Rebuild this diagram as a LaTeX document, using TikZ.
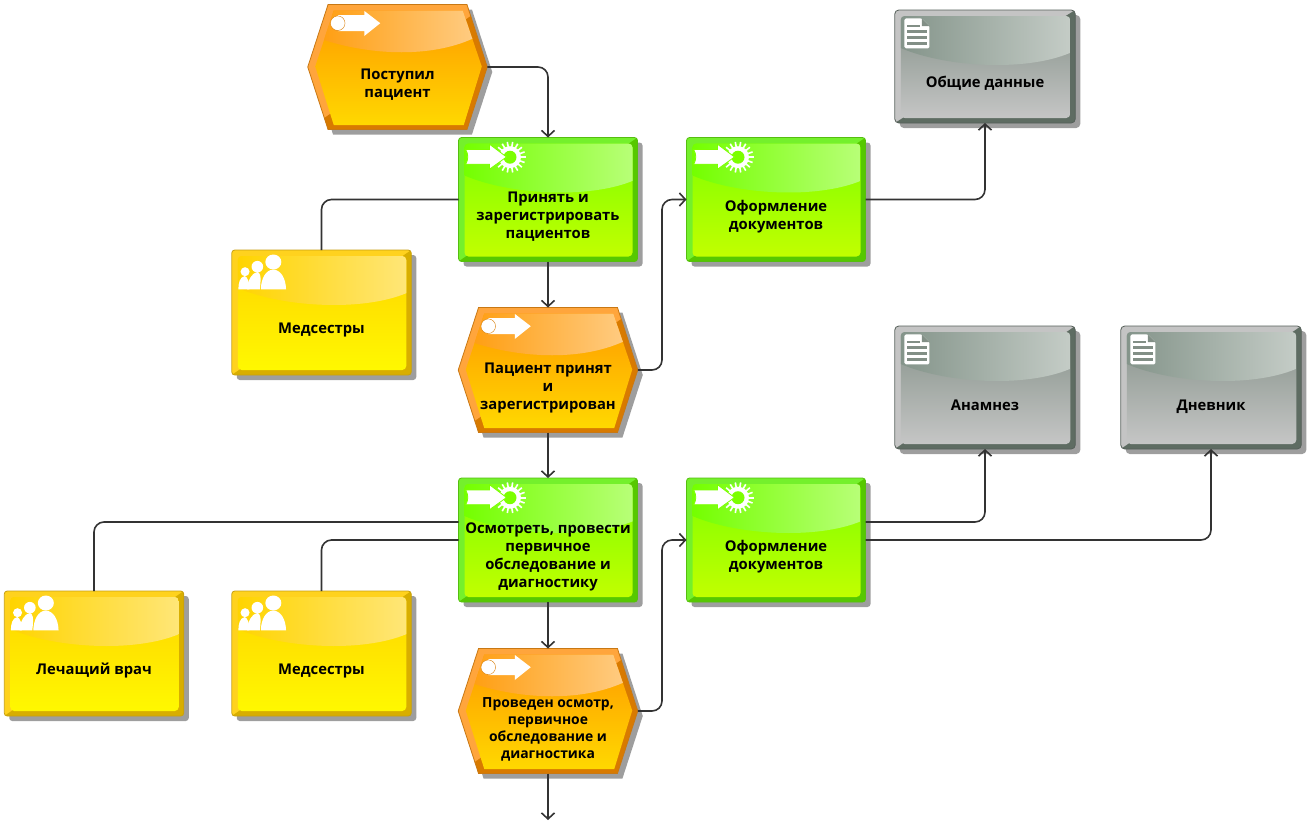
\documentclass[tikz,border=0pt]{standalone}
\usepackage{fontspec}
\setmainfont{Open Sans}
\usetikzlibrary{arrows.meta,shadows,shapes.symbols}

% Face colours of the four box kinds
\definecolor{evlight}{HTML}{FFA53C}
\definecolor{evdark}{HTML}{D87A00}
\definecolor{evedge}{HTML}{C87814}
\definecolor{evtop}{HTML}{FF9A00}
\definecolor{evbot}{HTML}{FFD800}
\definecolor{evglossl}{HTML}{FF9C0C}
\definecolor{evglossr}{HTML}{FFCE88}
\definecolor{fnlight}{HTML}{74F02C}
\definecolor{fndark}{HTML}{56C800}
\definecolor{fnedge}{HTML}{56BE10}
\definecolor{fntop}{HTML}{7CFF00}
\definecolor{fnbot}{HTML}{C4FF00}
\definecolor{fnglossl}{HTML}{74FF00}
\definecolor{fnglossr}{HTML}{B8FF78}
\definecolor{orlight}{HTML}{FFD21E}
\definecolor{ordark}{HTML}{D8AE00}
\definecolor{oredge}{HTML}{C8A010}
\definecolor{ortop}{HTML}{FFD200}
\definecolor{orbot}{HTML}{FFFA00}
\definecolor{orglossl}{HTML}{FFD400}
\definecolor{orglossr}{HTML}{FFE678}
\definecolor{inlight}{HTML}{C4C4C4}
\definecolor{indark}{HTML}{5E6C62}
\definecolor{inedge}{HTML}{56605A}
\definecolor{intop}{HTML}{828F86}
\definecolor{inbot}{HTML}{C8C8C8}
\definecolor{inglossl}{HTML}{84948A}
\definecolor{inglossr}{HTML}{C4CCC6}
\definecolor{linkcol}{HTML}{333333}

\tikzset{
  boxorigin/.code={\pgftransformreset\pgftransformshift{\pgfpointanchor{path picture bounding box}{north west}}},
  boxorigin/.append style={x=1pt,y=-1pt,sharp corners}
}

% Rectangular face: bezel, gradient and gloss, #1 is the colour prefix
\newcommand{\rectface}[1]{%
  \fill[#1light,sharp corners] (path picture bounding box.north west) rectangle (path picture bounding box.south east);
  \fill[#1dark,sharp corners] (path picture bounding box.north east) -- (path picture bounding box.south east) -- (path picture bounding box.south west) -- cycle;
  \begin{scope}
    \clip[rounded corners=4pt] ([shift={(6pt,-6pt)}]path picture bounding box.north west) rectangle ([shift={(-5pt,5pt)}]path picture bounding box.south east);
    \shade[sharp corners,top color=#1top,bottom color=#1bot] (path picture bounding box.north west) rectangle (path picture bounding box.south east);
    \begin{scope}[boxorigin]
      \shade[left color=#1glossl,middle color=#1glossr!20!#1glossl,right color=#1glossr] (6,6) -- (175,6) -- (175,43) .. controls (130,62) and (50,57) .. (6,38) -- cycle;
    \end{scope}
  \end{scope}}

% Hexagon face: same layers, cut to the inner hexagon
\newcommand{\hexface}[1]{%
  \fill[#1light] (path picture bounding box.north west) rectangle (path picture bounding box.south east);
  \fill[#1dark] (path picture bounding box.north east) -- (path picture bounding box.south east) -- (path picture bounding box.south west) -- cycle;
  \begin{scope}[boxorigin]
    \clip (26,6) -- (155,6) -- (174,62) -- (156,120.5) -- (26,120.5) -- (7.5,62) -- cycle;
    \shade[top color=#1top,bottom color=#1bot] (0,6) rectangle (181,120.5);
    \shade[left color=#1glossl,middle color=#1glossr!20!#1glossl,right color=#1glossr] (6,6) -- (175,6) -- (175,29) .. controls (130,55) and (60,52) .. (6,32) -- cycle;
  \end{scope}}

% Icons, in pixels from the corner of the box
\newcommand{\evicon}{%
  \begin{scope}[boxorigin]
    \fill[white] (30,10.5) -- (56.5,10.5) -- (56.5,6.4) -- (72.5,18.7) -- (56.5,31.5) -- (56.5,26.5) -- (30,26.5) -- cycle;
    \fill[white,draw=evdark,line width=0.4pt] (30,18.7) circle (7.3);
  \end{scope}}
\newcommand{\fnicon}{%
  \begin{scope}[boxorigin]
    \foreach \a in {0,20,...,340} \draw[white,line width=1.6pt] (51.5,19.7) ++(\a:9) -- ++(\a:6.5);
    \fill[white] (51.5,19.7) circle (11);
    \fill[fntop] (51.5,19.7) circle (6.5);
    \fill[white,draw=fntop,line width=0.8pt] (7.2,12) -- (31,12) -- (31,6.7) -- (48,19.5) -- (31,31.7) -- (31,26.7) -- (7.2,26.7) .. controls (10,22) and (10,17) .. cycle;
  \end{scope}}
\newcommand{\oricon}{%
  \begin{scope}[boxorigin]
    \fill[white] (6.6,39.3) .. controls (6.6,33) and (8,27) .. (13,26) .. controls (16,27) and (18,33) .. (17.5,39.3) -- cycle;
    \fill[white] (13.3,21.7) circle (4.5);
    \fill[white] (15.3,39.3) .. controls (16,30) and (20,23) .. (25.6,22) .. controls (28,22.5) and (30,25) .. (28,39.3) -- cycle;
    \fill[white] (25.6,16.7) circle (5.8);
    \fill[white] (29,39.3) .. controls (29.5,28) and (34,20) .. (41.6,19.5) .. controls (49,20) and (54,28) .. (54.3,39.3) -- cycle;
    \fill[white] (41.6,12) ellipse (8 and 7.5);
  \end{scope}}
\newcommand{\inicon}{%
  \begin{scope}[boxorigin]
    \fill[white,rounded corners=1.5pt] (9.7,8.3) -- (27,8.3) -- (34.7,16) -- (34.7,38.3) -- (9.7,38.3) -- cycle;
    \fill[intop] (27,8.3) -- (27,16) -- (34.7,16) -- cycle;
    \foreach \y/\e in {16/25,21.7/32.5,27.7/32.5,33.3/32.5} \fill[intop] (12,\y-1.3) rectangle (\e,\y+1.3);
  \end{scope}}

% Box text sits below the middle of the box
\newcommand{\lowtext}[2][20.5pt]{\raisebox{-#1}[0pt][0pt]{\begin{tabular}{@{}c@{}}#2\end{tabular}}}

\tikzset{
  epcbase/.style={line width=0.8pt,inner sep=0pt,outer sep=0pt,text=black,
    font=\fontsize{14.8}{18}\selectfont\bfseries,
    drop shadow={shadow xshift=5pt,shadow yshift=-5pt,fill=black!38,opacity=1}},
  epcevent/.style={epcbase,shape=signal,signal to=east and west,signal pointer angle=144,
    minimum width=179.5pt,minimum height=125pt,draw=evedge,
    path picture={\hexface{ev}\evicon}},
  epcfn/.style={epcbase,rectangle,rounded corners=3pt,minimum width=179pt,minimum height=124pt,
    draw=fnedge,path picture={\rectface{fn}\fnicon}},
  epcorg/.style={epcbase,rectangle,rounded corners=3pt,minimum width=179.5pt,minimum height=125pt,
    draw=oredge,path picture={\rectface{or}\oricon}},
  epcinfo/.style={epcbase,rectangle,rounded corners=4pt,minimum width=180.5pt,minimum height=123pt,
    draw=inedge,path picture={\rectface{in}\inicon}},
  link/.style={draw=linkcol,line width=1.6pt,rounded corners=10pt},
  >={Straight Barb[length=6pt,width=13pt]}
}

\begin{document}
\begin{tikzpicture}[x=1pt,y=-1pt]
  \useasboundingbox (0,0) rectangle (1314,825);

  % Events
  \node[epcevent] (evA) at (397.5,67) {\lowtext[21pt]{Поступил\\пациент}};
  \node[epcevent] (evB) at (548,370) {\lowtext[21pt]{Пациент принят\\и\\зарегистрирован}};
  \node[epcevent,font=\fontsize{13.9}{17}\selectfont\bfseries] (evC) at (548,711) {\lowtext[22pt]{Проведен осмотр,\\первичное\\обследование и\\диагностика}};

  % Functions
  \node[epcfn] (fnA) at (548,199.5) {\lowtext{Принять и\\зарегистрировать\\пациентов}};
  \node[epcfn] (fnB) at (776,199.5) {\lowtext{Оформление\\документов}};
  \node[epcfn] (fnC) at (548,540) {\lowtext{Осмотреть, провести\\первичное\\обследование и\\диагностику}};
  \node[epcfn] (fnD) at (776,540) {\lowtext{Оформление\\документов}};

  % Staff
  \node[epcorg] (orgA) at (321.5,312.5) {\lowtext{Медсестры}};
  \node[epcorg] (orgB) at (94,653.5) {\lowtext{Лечащий врач}};
  \node[epcorg] (orgC) at (321.5,653.5) {\lowtext{Медсестры}};

  % Documents
  \node[epcinfo,minimum height=113pt] (infoA) at (985,66.5) {\lowtext{Общие данные}};
  \node[epcinfo] (infoB) at (985,387.5) {\lowtext[22.5pt]{Анамнез}};
  \node[epcinfo] (infoC) at (1211,387.5) {\lowtext[22.5pt]{Дневник}};

  % Helper points
  \coordinate (turnA) at (662,285);
  \coordinate (turnB) at (662,625);
  \coordinate (flowend) at (548,820);

  % Main flow
  \draw[link,->] (evA.east) -| (fnA.north);
  \draw[link,->] (fnA.south) -- (evB.north);
  \draw[link,->] (evB.south) -- (fnC.north);
  \draw[link,->] (fnC.south) -- (evC.north);
  \draw[link,->] (evC.south) -- (flowend);

  % Side branches
  \draw[link,->] (evB.east) -| (turnA) |- (fnB.west);
  \draw[link,->] (evC.east) -| (turnB) |- (fnD.west);
  \draw[link,->] (fnB.east) -| (infoA.south);
  \draw[link,->] ([yshift=18pt]fnD.east) -| (infoB.south);
  \draw[link,->] (fnD.east) -| (infoC.south);

  % Staff links
  \draw[link] (fnA.west) -| (orgA.north);
  \draw[link] ([yshift=18pt]fnC.west) -| (orgB.north);
  \draw[link] (fnC.west) -| (orgC.north);
\end{tikzpicture}
\end{document}
